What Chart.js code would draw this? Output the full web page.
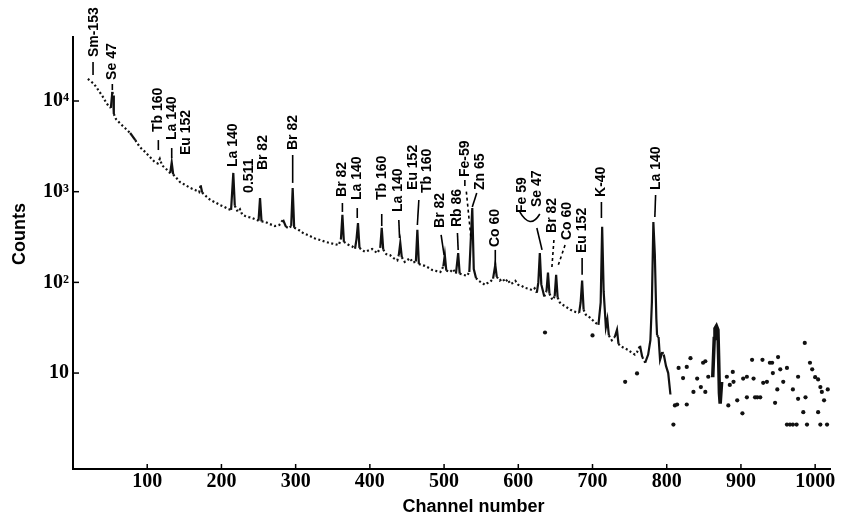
<!DOCTYPE html>
<html><head><meta charset="utf-8">
<script src="https://cdn.jsdelivr.net/npm/chart.js@4"></script>
<style>html,body{margin:0;padding:0;background:#fff}</style>
</head><body>
<canvas id="c" width="843" height="522"></canvas>
<script>
// ---- spectrum (continuous part) ----
const channels = [20,24,28,32,36,40,44,48,51,53,54,55,58,64,70,77,84,90,96,101,106,110,114,117,120,124,128,131,133,135,140,144,150,158,165,170,172,174,180,185,192,198,204,209,213,216,218,222,225,228,232,237,241,247,250,252,254,259,265,272,278,283,287,291,294,296,298,303,310,319,326,333,340,346,352,358,361,363,365,371,376,380,382,384,386,390,394,398,403,410,414,416,418,422,427,432,437,439,441,443,447,450,454,458,462,464,466,470,474,479,484,490,495,499,501,503,508,512,516,519,521,526,531,534,536,538,540,543,546,550,555,558,562,566,569,571,575,579,582,586,589,592,596,600,604,609,614,619,622,625,627,629,631,635,638,640,642,646,649,651,653,656,659,664,670,674,678,682,684,686,688,691,695,699,704,708,711,713,715,718,720,722,726,730,733,735,737,742,748,752,757,760,764,767,771,775,778,780,782,784,786,787,789,791,794,796,799,802,805];
const counts = [17500,16500,15500,14000,12500,11200,9800,8800,8400,12600,11500,7200,6300,5600,5040,4440,3700,3110,2800,2540,2300,2125,2050,2300,1950,1830,1700,1600,2100,1550,1400,1280,1200,1100,1040,990,1180,980,880,810,760,713,680,645,630,1610,700,600,640,560,540,525,515,490,480,850,470,465,440,418,430,490,410,395,420,1100,400,385,350,325,305,293,280,272,265,258,300,555,280,260,250,235,300,450,240,225,217,225,233,210,240,400,230,205,200,185,175,200,272,190,168,175,185,165,170,380,160,155,152,145,137,133,130,150,200,135,130,140,125,210,125,121,118,130,300,660,140,112,105,100,94,98,101,110,156,115,105,110,101,108,96,98,104,94,92,87,85,82,86,77,100,210,95,70,80,128,75,64,70,121,68,60,57,54,50,48,47,46,60,105,50,44,42,39,36,34,60,410,80,32,39,26,23,25,30,21,20,19,18,17,16,17,20,15,13,16,23,60,464,200,40,26,25,14,17,16,12,10,5.8];

// ---- isolated peak near channel 868 ----
const peakChannels = [862,864,865,867,869,870,871,872,874];
const peakCounts = [9,24,31,33,30,14,6,4.6,8];

// ---- scattered points (tail and strays) ----
const tailChannels = [636,700,744,760,809,811,814,816,822,827,827,832,836,841,846,849,852,852,856,881,883,885,889,890,895,902,903,908,908,915,917,919,922,926,929,930,935,939,942,943,946,949,950,953,957,962,962,966,970,970,975,977,977,984,986,987,989,993,996,1000,1004,1004,1007,1007,1009,1012,1016,1017];
const tailCounts = [28,26,8.0,9.9,2.7,4.4,4.5,11.4,8.8,4.5,11.7,14.6,6.2,8.7,7,13,6.2,13.5,9.1,9.1,4.4,7.4,10.3,8,5.0,3.6,8.7,5.4,9.1,14,8.7,5.4,5.4,5.4,14,7.8,8.0,13,13,10,4.7,6.6,15,11,8,11.4,2.7,2.7,6.6,2.7,2.7,9.1,5.2,3.7,21.5,5.4,2.7,13,11,9,8.5,3.7,7,2.7,6.2,5,2.7,6.6];

// ---- axes ----
const xTickValues = [100,200,300,400,500,600,700,800,900,1000];
const yTickValues = [10,100,1000,10000];
const yTickLabels = ['10','10\u00B2','10\u00B3','10\u2074'];
const xTitle = 'Channel number';
const yTitle = 'Counts';

// ---- peak identifications ----
const labelTexts = ['Sm-153','Se 47','Tb 160','La 140','Eu 152','La 140','0.511','Br 82','Br 82','Br 82','La 140','Tb 160','La 140','Eu 152','Tb 160','Br 82','Rb 86','Fe-59','Zn 65','Co 60','Fe 59','Se 47','Br 82','Co 60','Eu 152','K-40','La 140'];
const labelChannels = [29,53,115,133,152,216,237,256,296,363,383,416,438,458,477,495,518,528,549,569,605,625,646,666,686,712,786];
const labelCounts = [30500,17100,4550,3710,2540,1870,970,1730,2880,875,810,810,598,1045,968,398,408,1450,1045,245,582,678,351,293,211,875,1045];
// pointer strokes from (ch0,v0) to (ch1,v1); dashed flag
const ptrCh0 = [27,53,115,133,296,363,383,416,439,466,496,518,528,530,544,569,625,648,663,686,712,785];
const ptrV0  = [26900,15400,3710,3030,2540,750,660,568,488,810,334,351,1345,1000,968,228,398,293,258,186,770,920];
const ptrCh1 = [27,53,115,133,296,363,383,416,440,464,500,519,528,536,538,569,632,645,654,686,712,784];
const ptrV1  = [19400,13200,2880,2350,1250,598,513,418,309,430,200,228,1156,320,678,156,228,137,156,121,513,526];
const ptrDashed = [0,0,0,0,0,0,0,0,0,0,0,0,0,1,0,0,0,1,1,0,0,0];
// bracket grouping Fe 59 / Se 47
const bracketCh = [602,616,629];
const bracketV = [598,378,568];

const annotPlugin = {
  id: 'annot',
  afterDatasetsDraw(chart) {
    const {ctx, scales: {x, y}, chartArea: a} = chart;
    ctx.save();
    ctx.fillStyle = '#000';
    ctx.strokeStyle = '#000';
    // inward axis ticks
    ctx.lineWidth = 1.5;
    xTickValues.forEach(v => {
      const px = x.getPixelForValue(v);
      ctx.beginPath(); ctx.moveTo(px, a.bottom); ctx.lineTo(px, a.bottom - 5); ctx.stroke();
    });
    yTickValues.forEach(v => {
      const py = y.getPixelForValue(v);
      ctx.beginPath(); ctx.moveTo(a.left, py); ctx.lineTo(a.left + 6, py); ctx.stroke();
    });
    // peak labels
    ctx.font = 'bold 14px "Liberation Sans", Arial, sans-serif';
    ctx.textBaseline = 'middle';
    ctx.textAlign = 'left';
    labelTexts.forEach((t, i) => {
      const px = x.getPixelForValue(labelChannels[i]);
      const py = y.getPixelForValue(labelCounts[i]);
      ctx.save(); ctx.translate(px, py); ctx.rotate(-Math.PI / 2); ctx.fillText(t, 0, 0); ctx.restore();
    });
    // pointers
    ctx.lineWidth = 1.6;
    ptrCh0.forEach((c, i) => {
      ctx.setLineDash(ptrDashed[i] ? [3, 3] : []);
      ctx.beginPath();
      ctx.moveTo(x.getPixelForValue(c), y.getPixelForValue(ptrV0[i]));
      ctx.lineTo(x.getPixelForValue(ptrCh1[i]), y.getPixelForValue(ptrV1[i]));
      ctx.stroke();
    });
    ctx.setLineDash([]);
    ctx.beginPath();
    ctx.moveTo(x.getPixelForValue(bracketCh[0]), y.getPixelForValue(bracketV[0]));
    ctx.quadraticCurveTo(x.getPixelForValue(bracketCh[1]), y.getPixelForValue(bracketV[1]),
                         x.getPixelForValue(bracketCh[2]), y.getPixelForValue(bracketV[2]));
    ctx.stroke();
    // axis titles
    ctx.font = 'bold 18px "Liberation Sans", Arial, sans-serif';
    ctx.textAlign = 'center';
    ctx.fillText(xTitle, (a.left + a.right) / 2 + 22, a.bottom + 38);
    ctx.save();
    ctx.translate(20, (a.top + a.bottom) / 2 - 19);
    ctx.rotate(-Math.PI / 2);
    ctx.fillText(yTitle, 0, 0);
    ctx.restore();
    ctx.restore();
  }
};

const mainData = channels.map((c, i) => ({x: c, y: counts[i]}));
const peakData = peakChannels.map((c, i) => ({x: c, y: peakCounts[i]}));
const tailData = tailChannels.map((c, i) => ({x: c, y: tailCounts[i]}));

new Chart(document.getElementById('c'), {
  type: 'line',
  data: {
    datasets: [
      {
        data: mainData, borderColor: '#111', borderWidth: 2.2, pointRadius: 0, tension: 0,
        segment: { borderDash: ctx => (Math.abs(ctx.p1.y - ctx.p0.y) > 7 ? [] : [2, 2.5]) }
      },
      { data: peakData, borderColor: '#111', borderWidth: 3.5, pointRadius: 0, tension: 0 },
      { type: 'scatter', data: tailData, pointRadius: 2.1, pointBackgroundColor: '#111', pointBorderWidth: 0, showLine: false }
    ]
  },
  options: {
    responsive: false,
    animation: false,
    layout: { padding: { left: 0, right: 13, top: 37, bottom: 0 } },
    plugins: { legend: { display: false }, tooltip: { enabled: false } },
    scales: {
      x: {
        type: 'linear', min: 0, max: 1020, bounds: 'data',
        afterBuildTicks: s => { s.ticks = xTickValues.map(v => ({value: v})); },
        afterFit: s => { s.height = 53; },
        grid: { display: true, drawOnChartArea: false, drawTicks: false },
        border: { display: true, color: '#000', width: 2 },
        ticks: {
          font: { family: '"Liberation Serif", serif', weight: 'bold', size: 20 },
          color: '#000', padding: 1, maxRotation: 0, autoSkip: false,
          callback: v => String(v)
        }
      },
      y: {
        type: 'logarithmic', min: 0.875, max: 50800, bounds: 'data',
        afterBuildTicks: s => { s.ticks = yTickValues.map(v => ({value: v})); },
        afterFit: s => { s.width = 73; },
        grid: { display: true, drawOnChartArea: false, drawTicks: false },
        border: { display: true, color: '#000', width: 2 },
        ticks: {
          font: { family: '"Liberation Serif", serif', weight: 'bold', size: 20 },
          color: '#000', padding: 4, autoSkip: false,
          callback: v => { const i = yTickValues.indexOf(v); return i >= 0 ? yTickLabels[i] : ''; }
        }
      }
    }
  },
  plugins: [annotPlugin]
});
</script>
</body></html>
